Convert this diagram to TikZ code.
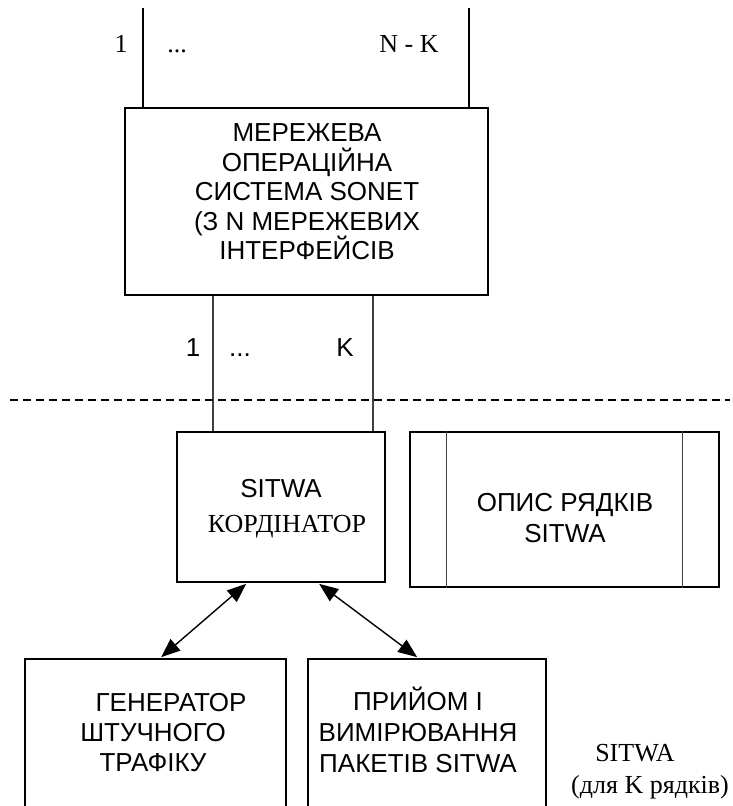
\documentclass[tikz,border=0pt]{standalone}
\usepackage{fontspec}
\setmainfont{Liberation Serif}
\newfontfamily\arialfont{Liberation Sans}
\usetikzlibrary{arrows.meta,calc}
\begin{document}
\begin{tikzpicture}[x=1pt,y=-1pt,
  blk/.style={draw=black,line width=1.7pt,inner sep=0pt},
  wire/.style={draw=black!75,line width=1.1pt},
  sanslbl/.style={font=\arialfont\fontsize{26}{29.5}\selectfont,align=center,inner sep=0pt},
  seriflbl/.style={font=\fontsize{26}{30}\selectfont,inner sep=0pt,anchor=base},
  link/.style={line width=1.4pt,{Triangle[length=19pt,width=15pt]}-{Triangle[length=19pt,width=15pt]}}]
\useasboundingbox (0,0) rectangle (732,806);
\clip (0,0) rectangle (732,806);

% network operating system block
\node[blk,minimum width=363pt,minimum height=187pt] (os) at (306.5,201.5) {};
\node[sanslbl] (ostxt) at (307,192) {МЕРЕЖЕВА\\ОПЕРАЦІЙНА\\СИСТЕМА SONET\\(З N МЕРЕЖЕВИХ\\ІНТЕРФЕЙСІВ};

% upper interfaces 1 ... N-K
\coordinate (u1) at (143,8);
\coordinate (u2) at (469,8);
\draw[wire,draw=black] (u1) -- (u1 |- os.north);
\draw[wire,draw=black] (u2) -- (u2 |- os.north);
\node[seriflbl] (ul1) at (121,52) {1};
\node[seriflbl] (uld) at (177,52) {...};
\node[seriflbl] (ulnk) at (409,52) {N - K};

% coordinator block
\node[blk,minimum width=208pt,minimum height=150pt] (coord) at (281,507) {};
\node[font=\arialfont\fontsize{26}{30}\selectfont,inner sep=0pt,anchor=base] (ctxt1) at (281,497) {SITWA};
\node[seriflbl] (ctxt2) at (287,532) {КОРДІНАТОР};

% lower interfaces 1 ... K
\coordinate (k1) at (213,0);
\coordinate (k2) at (373,0);
\draw[wire] (k1 |- os.south) -- (k1 |- coord.north);
\draw[wire] (k2 |- os.south) -- (k2 |- coord.north);
\node[sanslbl,anchor=base] (kl1) at (193,356) {1};
\node[sanslbl,anchor=base] (kld) at (240,356) {...};
\node[sanslbl,anchor=base] (klk) at (345,356) {K};

% separator
\coordinate (sepL) at (10,400);
\coordinate (sepR) at (730,400);
\draw[line width=1.1pt,dash pattern=on 8pt off 5pt] (sepL) -- (sepR);

% row description table
\node[blk,minimum width=309pt,minimum height=155pt] (opis) at (564.5,509.5) {};
\draw[wire] ($(opis.north west)+(37,0)$) -- ($(opis.south west)+(37,0)$);
\draw[wire] ($(opis.north east)+(-37,0)$) -- ($(opis.south east)+(-37,0)$);
\node[sanslbl,font=\arialfont\fontsize{26}{31}\selectfont] (opistxt) at (565,518) {ОПИС РЯДКІВ\\SITWA};

% traffic generator and receiver blocks (run past the lower edge)
\node[blk,minimum width=261pt,minimum height=170pt] (gen) at (155.5,744) {};
\node[sanslbl,font=\arialfont\fontsize{26}{30}\selectfont] (gentxt) at (153,733) {\hspace*{36pt}ГЕНЕРАТОР\\ШТУЧНОГО\\ТРАФІКУ};
\node[blk,minimum width=238pt,minimum height=170pt] (rcv) at (427,744) {};
\node[sanslbl,font=\arialfont\fontsize{26}{31}\selectfont] (rcvtxt) at (418,730) {ПРИЙОМ І\\ВИМІРЮВАННЯ\\ПАКЕТІВ SITWA};

% links to the coordinator
\draw[link] ($(coord.south west)+(70,1)$) -- ($(gen.north west)+(137,-1)$);
\draw[link] ($(coord.south west)+(143,1)$) -- ($(rcv.north west)+(110,-1)$);

% caption
\node[seriflbl] (cap1) at (635,761) {SITWA};
\node[seriflbl] (cap2) at (650,793) {(для K рядків)};
\end{tikzpicture}
\end{document}
